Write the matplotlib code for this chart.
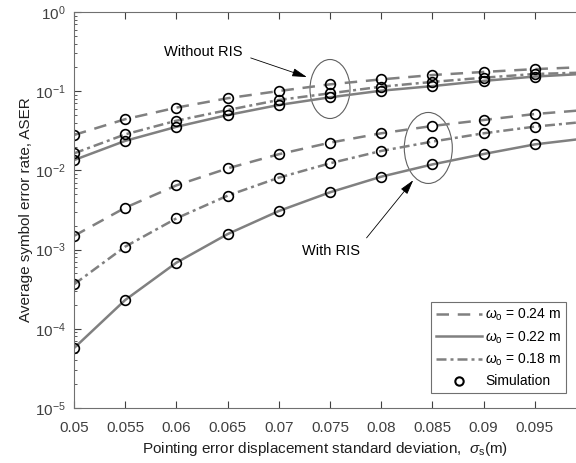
import matplotlib
matplotlib.use('Agg')
import matplotlib.pyplot as plt
from matplotlib.patches import Ellipse
from matplotlib.transforms import ScaledTranslation
import numpy as np

plt.rcParams['font.family'] = ['Liberation Sans', 'DejaVu Sans']
plt.rcParams['mathtext.fontset'] = 'custom'
plt.rcParams['mathtext.rm'] = 'Liberation Sans'
plt.rcParams['mathtext.it'] = 'Liberation Sans:italic'

# pointing error std (m); lines run to 0.1, simulation points up to 0.095
sigma_s = [0.05, 0.055, 0.06, 0.065, 0.07, 0.075, 0.08, 0.085, 0.09, 0.095, 0.1]

# without RIS
noris_024 = [0.028, 0.0443, 0.062, 0.0815, 0.1005, 0.122, 0.141, 0.160, 0.175, 0.190, 0.202]
noris_022 = [0.0135, 0.0236, 0.0355, 0.050, 0.067, 0.0837, 0.1015, 0.116, 0.135, 0.153, 0.166]
noris_018 = [0.0164, 0.0285, 0.0424, 0.0578, 0.0775, 0.094, 0.114, 0.131, 0.148, 0.165, 0.172]

# with RIS
ris_024 = [0.00149, 0.00338, 0.00647, 0.0106, 0.0160, 0.0224, 0.0294, 0.0364, 0.0433, 0.0515, 0.058]
ris_022 = [5.7e-5, 2.31e-4, 6.84e-4, 1.57e-3, 3.07e-3, 5.29e-3, 8.33e-3, 0.0119, 0.0161, 0.0213, 0.0254]
ris_018 = [3.64e-4, 1.09e-3, 2.48e-3, 4.8e-3, 8.1e-3, 0.0123, 0.0176, 0.0231, 0.0294, 0.0357, 0.0412]

gray = '#808080'
styles = {
    '0.24': dict(ls=(0, (5, 3.5)), lw=1.8),
    '0.22': dict(ls='-', lw=1.8),
    '0.18': dict(ls=(0, (4, 1.6, 1.2, 1.6)), lw=1.8),
}

fig = plt.figure(figsize=(5.76, 4.63), dpi=100)
ax = fig.add_axes([74 / 576, 55 / 463, 1 - 74 / 576, (408 - 12) / 463])

x = np.array(sigma_s)
groups = [
    ('0.24', noris_024, ris_024),
    ('0.22', noris_022, ris_022),
    ('0.18', noris_018, ris_018),
]
for w, a, b in groups:
    ax.plot(x, a, color=gray, label=r'$\omega_{\rm o}$ = ' + w + ' m', **styles[w])
    ax.plot(x, b, color=gray, **styles[w])

for _, a, b in groups:
    for ser in (a, b):
        ax.plot(x[:-1], ser[:-1], 'o', mfc='none', mec='black', ms=7, mew=1.2, ls='none')
ax.plot([], [], 'o', mfc='none', mec='black', ms=6, mew=1.5, ls='none', label='Simulation')

ax.set_yscale('log')
ax.set_ylim(1e-5, 1)
ax.set_xlim(0.05, 0.05 + (576 - 74) / 51.2 * 0.005)
ax.set_xticks([0.05, 0.055, 0.06, 0.065, 0.07, 0.075, 0.08, 0.085, 0.09, 0.095])
ax.set_xticklabels(['0.05', '0.055', '0.06', '0.065', '0.07', '0.075', '0.08', '0.085', '0.09', '0.095'])
ax.tick_params(which='both', direction='in', top=True, right=False, labelsize=11, colors='#404040')
ax.tick_params(which='major', length=5)
ax.tick_params(which='minor', length=2.5)
ax.tick_params(axis='x', pad=9)
ax.tick_params(axis='y', pad=6)
for sp in ['left', 'bottom', 'top']:
    ax.spines[sp].set_color('#707070')
ax.spines['right'].set_visible(False)

ax.set_xlabel(r'Pointing error displacement standard deviation,  $\sigma_{\rm s}$(m)',
              fontsize=11, color='#202020', labelpad=4)
ax.set_ylabel('Average symbol error rate, ASER', fontsize=11, color='#202020', labelpad=1)

# annotations
ax.text(0.0588, 0.31, 'Without RIS', fontsize=10.5, va='center', ha='left')
ax.annotate('', xy=(0.0730, 0.147), xytext=(0.0670, 0.27),
            arrowprops=dict(arrowstyle='-|>,head_length=0.9,head_width=0.25', color='black', lw=0.6))
ax.text(0.0723, 0.00096, 'With RIS', fontsize=10.5, va='center', ha='left')
ax.annotate('', xy=(0.0833, 0.0080), xytext=(0.0784, 0.00132),
            arrowprops=dict(arrowstyle='-|>,head_length=0.9,head_width=0.25', color='black', lw=0.6))

for cx, cy, w_in, h_in in [(0.075, 0.1066, 0.40, 0.59), (0.0846, 0.0192, 0.48, 0.71)]:
    tr = fig.dpi_scale_trans + ScaledTranslation(cx, cy, ax.transData)
    ax.add_patch(Ellipse((0, 0), w_in, h_in, transform=tr, fill=False, ec='#606060', lw=0.8))

leg = ax.legend(loc='lower right', bbox_to_anchor=(0.985, 0.03), fontsize=10, handlelength=3.3,
                fancybox=False, framealpha=1, edgecolor='#707070', borderpad=0.35,
                labelspacing=0.45, handletextpad=0.2, borderaxespad=0.2)
leg.get_frame().set_linewidth(0.8)

fig.savefig('out.png', dpi=100)
